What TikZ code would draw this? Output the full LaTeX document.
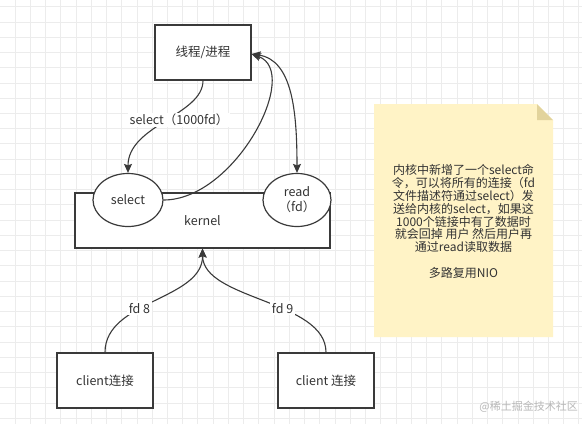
\documentclass[tikz,border=0pt]{standalone}
\usepackage{fontspec}
\setmainfont{Noto Sans CJK SC}
\usetikzlibrary{shapes.geometric,arrows.meta}
\definecolor{ink}{HTML}{333333}
\definecolor{edge}{HTML}{3A3A3A}
\definecolor{gridc}{HTML}{ECECEC}
\definecolor{notefill}{HTML}{FFF3C6}
\definecolor{notefold}{HTML}{E2D39C}
\definecolor{wm}{HTML}{B8B8B8}
\tikzset{
  box/.style={draw=edge, line width=1.2pt, fill=white, minimum width=96pt, minimum height=55pt, inner sep=0pt, text=ink, font=\fontsize{12.5}{15}\selectfont},
  oval/.style={ellipse, draw=edge, line width=1.2pt, fill=white, inner sep=0pt, text=ink, align=center, font=\fontsize{12.5}{15}\selectfont},
  conn/.style={draw=edge, line width=1.1pt},
  tip/.style={-{Stealth[length=9pt,width=8pt,inset=1.5pt]}},
  lbl/.style={fill=white, text=ink, inner sep=1.5pt, font=\fontsize{12.5}{15}\selectfont},
  gridline/.style={draw=gridc, line width=0.8pt}
}
\begin{document}
\begin{tikzpicture}[x=1pt,y=-1pt]
\useasboundingbox (0,0) rectangle (582,424);
\fill[white] (0,0) rectangle (582,424);
% grid
\foreach \k in {1,...,38} \draw[gridline] ({-0.24+15.24*\k},0) -- ({-0.24+15.24*\k},424);
\foreach \k in {0,...,27} \draw[gridline] (0,{6.7+15.24*\k}) -- (582,{6.7+15.24*\k});

% nodes
\node[box] (proc) at (203,52.5) {线程/进程};
\node[box, minimum width=255pt, minimum height=55pt] (kern) at (202.5,220.5) {kernel};
\node[oval, minimum width=70pt, minimum height=53pt] (sel) at (128,200) {select};
\node[oval, minimum width=68pt, minimum height=53pt] (rd) at (297,200) {read\\（fd）};
\node[box] (c1) at (105,380.5) {client连接};
\node[box] (c2) at (326,380.5) {client 连接};

% note
\fill[notefill] (374,104) -- (537,104) -- (553,120) -- (553,337) -- (374,337) -- cycle;
\fill[notefold] (537,104) -- (537,120) -- (553,120) -- cycle;
\node[text=ink, align=center, font=\fontsize{12}{12.8}\selectfont] (note) at (463.5,221.5)
  {内核中新增了一个select命\\令，可以将所有的连接（fd\\文件描述符通过select）发\\送给内核的select，如果这\\1000个链接中有了数据时\\就会回掉 用户 然后用户再\\通过read读取数据\\[12.8pt]多路复用NIO};

% connectors
\draw[conn, tip] (proc.south) .. controls (203,115) and (128,125) .. (sel.north);
\node[lbl] (l1) at (179,120) {select（1000fd）};
\draw[conn, tip] (sel.east) .. controls (235,200) and (302,72) .. ([yshift=-1.5pt]proc.east);
\draw[conn, {Stealth[length=9pt,width=8pt,inset=1.5pt]}-{Stealth[length=9pt,width=8pt,inset=1.5pt]}] ([yshift=-1.5pt]proc.east) .. controls (292,60) and (297,110) .. (rd.north);
\draw[conn, tip] (c1.north) .. controls (105,300) and (203,300) .. (kern.south) node[lbl, pos=0.4] (l2) {fd 8};
\draw[conn, tip] (c2.north) .. controls (326,300) and (203,300) .. (kern.south) node[lbl, pos=0.4] (l3) {fd 9};

% watermark
\node[text=wm, anchor=east, inner sep=0pt, font=\fontsize{11}{13}\selectfont] (wmk) at (578,407) {@稀土掘金技术社区};
\end{tikzpicture}
\end{document}
